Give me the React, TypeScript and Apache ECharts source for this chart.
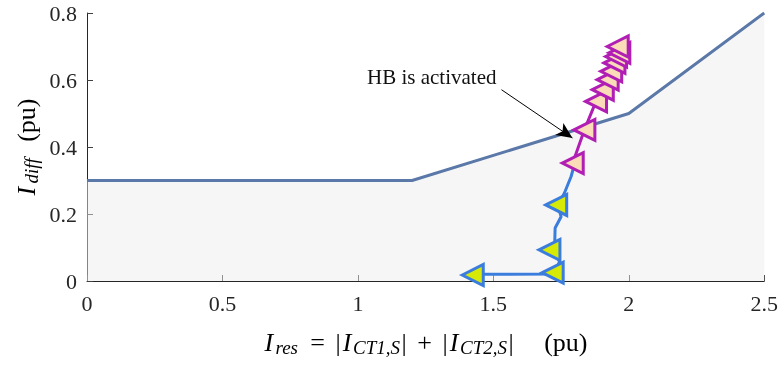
import React, { useEffect, useRef } from "react";
import * as echarts from "echarts";

// Characteristic (restraint) curve
const charX = [0, 1.2, 2, 2.5];
const charY = [0.3, 0.3, 0.5, 0.8];

// Trajectory before HB activation (blue)
const bluePathX = [1.424, 1.726, 1.744, 1.726, 1.728, 1.75, 1.738, 1.762, 1.787, 1.799];
const bluePathY = [0.02, 0.021, 0.058, 0.093, 0.158, 0.192, 0.227, 0.262, 0.312, 0.347];
const blueMarkX = [1.424, 1.719, 1.707, 1.732];
const blueMarkY = [0.018, 0.025, 0.093, 0.227];

// Trajectory after HB activation (magenta)
const pinkX = [1.793, 1.836, 1.879, 1.904, 1.922, 1.935, 1.947, 1.953, 1.965, 1.959];
const pinkY = [0.352, 0.451, 0.536, 0.571, 0.601, 0.626, 0.651, 0.67, 0.681, 0.7];

// Annotation arrow
const arrowFrom = [1.53, 0.571];
const arrowTo = [1.792, 0.427];
const annotation = "HB is activated";

const xTicks = { min: 0, max: 2.5, interval: 0.5 };
const yTicks = { min: 0, max: 0.8, interval: 0.2 };

const zip = (xs: number[], ys: number[]) => xs.map((x, i) => [x, ys[i]]);

const SERIF = "Liberation Serif";

export default function App() {
  const ref = useRef<HTMLDivElement>(null);
  useEffect(() => {
    if (!ref.current) return;
    const chart = echarts.init(ref.current, undefined, { renderer: "svg" });
    const ink = "#262626";
    const axisLabel = { fontFamily: SERIF, fontSize: 22, color: ink };
    const M = 26;
    const S = 19;
    const it = (w: number, align = "left") => ({ fontFamily: SERIF, fontSize: M, fontStyle: "italic", color: ink, width: w, align });
    const rm = (w: number, align = "left") => ({ fontFamily: SERIF, fontSize: M, color: ink, width: w, align });
    const sb = (w: number) => ({ fontFamily: SERIF, fontSize: S, fontStyle: "italic", color: ink, width: w, align: "left", padding: [11, 0, 0, 0] });
    chart.setOption({
      animation: false,
      textStyle: { fontFamily: SERIF },
      grid: { left: 87, right: 16, top: 13, bottom: 87, containLabel: false },
      xAxis: {
        type: "value",
        min: xTicks.min,
        max: xTicks.max,
        interval: xTicks.interval,
        axisLine: { show: true, onZero: false, lineStyle: { color: ink, width: 1 } },
        axisTick: { show: true, inside: true, length: 6, lineStyle: { color: "#404040" } },
        axisLabel: { ...axisLabel, margin: 11 },
        splitLine: { show: false },
      },
      yAxis: {
        type: "value",
        min: yTicks.min,
        max: yTicks.max,
        interval: yTicks.interval,
        axisLine: { show: true, onZero: false, lineStyle: { color: ink, width: 1 } },
        axisTick: { show: true, inside: true, length: 6, lineStyle: { color: "#404040" } },
        axisLabel: { ...axisLabel, margin: 10 },
        splitLine: { show: false },
      },
      series: [
        {
          type: "line",
          data: zip(charX, charY),
          symbol: "none",
          lineStyle: { color: "#5b79a8", width: 3 },
          areaStyle: { color: "rgba(236,236,236,0.68)", origin: "start" },
          z: 2,
          markLine: {
            silent: true,
            symbol: ["none", "arrow"],
            symbolSize: [11, 16],
            label: { show: false },
            lineStyle: { color: "#000", width: 1, type: "solid" },
            data: [[{ coord: arrowFrom }, { coord: arrowTo }]],
          },
        },
        {
          type: "line",
          data: zip(bluePathX, bluePathY),
          symbol: "none",
          lineStyle: { color: "#3b7ddc", width: 3 },
          z: 3,
        },
        {
          type: "scatter",
          data: zip(blueMarkX, blueMarkY),
          symbol: "triangle",
          symbolRotate: 90,
          symbolSize: 21,
          itemStyle: { color: "#d6ea05", borderColor: "#3b7ddc", borderWidth: 3, opacity: 1 },
          z: 4,
        },
        {
          type: "line",
          data: zip(pinkX, pinkY),
          symbol: "none",
          lineStyle: { color: "#b01eb4", width: 3 },
          z: 5,
        },
        {
          type: "scatter",
          data: zip(pinkX, pinkY),
          symbol: "triangle",
          symbolRotate: 90,
          symbolSize: 21,
          itemStyle: { color: "#fbdcb9", borderColor: "#b01eb4", borderWidth: 3, opacity: 1 },
          z: 6,
        },
      ],
      graphic: [
        {
          type: "text",
          x: 367,
          y: 77,
          style: {
            text: annotation,
            fontFamily: SERIF,
            fontSize: 21,
            fill: "#111",
            align: "left",
            verticalAlign: "middle",
            textAlign: "left",
            textVerticalAlign: "middle",
          },
        },
        {
          type: "text",
          x: 426,
          y: 342,
          style: {
            text:
              "{a|I}{b|res}{c|=}{d||}{e|I}{f|CT1,S}{g||}{h|+}{d||}{e|I}{f|CT2,S}{g||}{p|(pu)}",
            align: "center",
            verticalAlign: "middle",
            textAlign: "center",
            textVerticalAlign: "middle",
            rich: {
              a: it(11),
              b: sb(25),
              c: rm(34, "center"),
              d: rm(7),
              e: it(11),
              f: sb(48),
              g: rm(7),
              h: rm(34, "center"),
              p: rm(73, "right"),
            },
          },
        },
        {
          type: "text",
          x: 26,
          y: 147,
          rotation: Math.PI / 2,
          style: {
            text: "{a|I}{b|diff}{p|(pu)}",
            align: "center",
            verticalAlign: "middle",
            textAlign: "center",
            textVerticalAlign: "middle",
            rich: {
              a: it(12),
              b: sb(29),
              p: rm(56, "right"),
            },
          },
        },
      ],
    });
    return () => chart.dispose();
  }, []);
  return (
    <div
      ref={ref}
      style={{ position: "fixed", left: 0, top: 0, width: 781, height: 368 }}
    />
  );
}
